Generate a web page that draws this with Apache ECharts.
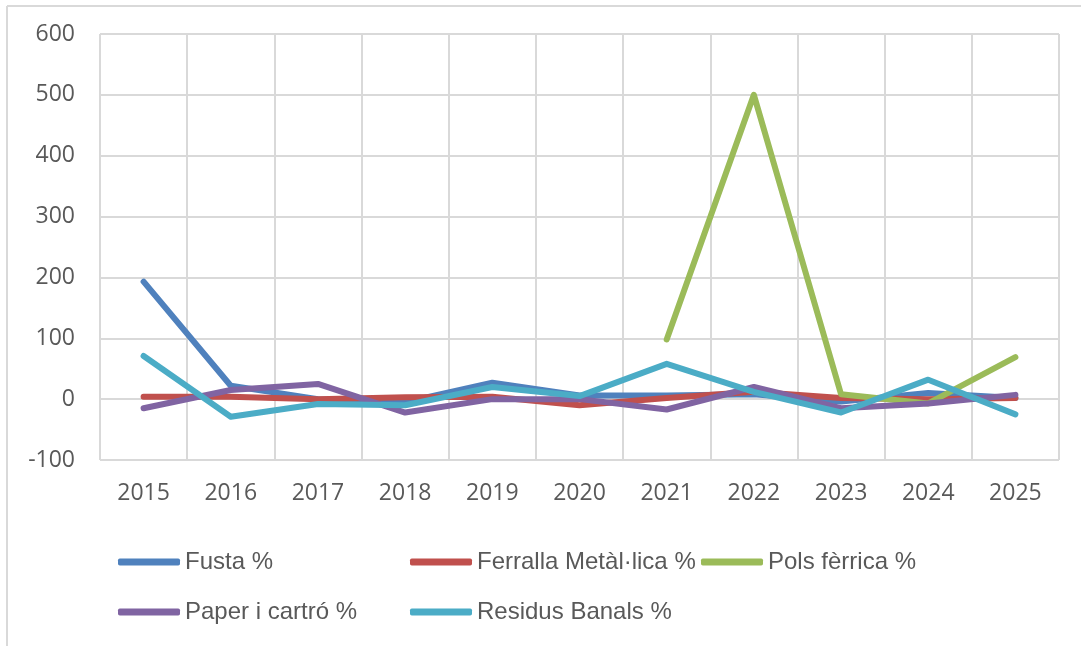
<!DOCTYPE html>
<html>
<head>
<meta charset="utf-8">
<style>
  html, body { margin: 0; padding: 0; background: #fff; }
  #main { width: 1081px; height: 646px; }
</style>
<script src="https://cdn.jsdelivr.net/npm/echarts@6/dist/echarts.min.js"></script>
</head>
<body>
<div id="main"></div>
<script>
// anys i valors (%)
var years = ['2015', '2016', '2017', '2018', '2019', '2020', '2021', '2022', '2023', '2024', '2025'];
var fusta = [193, 22, 0, -5, 27, 6, 6, 8, -4, 10, 2];
var ferralla = [4, 4, 0, 3, 4, -10, 2, 12, 2, 0, 2];
var pols = [null, null, null, null, null, null, 98, 500, 8, -7, 69];
var paper = [-15, 15, 25, -22, 0, 0, -17, 20, -15, -7, 7];
var residus = [71, -29, -8, -10, 20, 5, 58, 12, -22, 32, -25];
var yTicks = { min: -100, max: 600, interval: 100 };

var names = ['Fusta %', 'Ferralla Metàl·lica %', 'Pols fèrrica %', 'Paper i cartró %', 'Residus Banals %'];
var colors = ['#4F81BD', '#C0504D', '#9BBB59', '#8064A2', '#4BACC6'];
var values = [fusta, ferralla, pols, paper, residus];
var legendPos = [[118, 550], [410, 550], [701, 550], [118, 600], [410, 600]];

var myChart = echarts.init(document.getElementById('main'));

var grey = '#d9d9d9';
var txt = '#595959';

var option = {
    animation: false,
    color: colors,
    graphic: [
        { type: 'line', shape: { x1: 7, y1: 6, x2: 1081, y2: 6 }, style: { stroke: grey, lineWidth: 2 } },
        { type: 'line', shape: { x1: 7, y1: 6, x2: 7, y2: 646 }, style: { stroke: grey, lineWidth: 2 } }
    ],
    grid: { left: 100, right: 22, top: 34, bottom: 186 },
    legend: names.map(function (n, i) {
        return {
            data: [n],
            left: legendPos[i][0],
            top: legendPos[i][1],
            padding: 0,
            icon: 'roundRect',
            itemWidth: 62,
            itemHeight: 7,
            textStyle: { fontFamily: 'Liberation Sans', fontSize: 24, color: txt, padding: [0, 0, 0, 0] }
        };
    }),
    xAxis: {
        type: 'category',
        data: years,
        boundaryGap: true,
        axisLine: { lineStyle: { color: grey, width: 2 } },
        axisTick: { show: false },
        splitLine: { show: true, lineStyle: { color: grey, width: 2 } },
        axisLabel: { fontFamily: 'Open Sans', fontSize: 23, color: txt, margin: 22 }
    },
    yAxis: {
        type: 'value',
        min: yTicks.min,
        max: yTicks.max,
        interval: yTicks.interval,
        axisLine: { show: false },
        axisTick: { show: false },
        splitLine: { lineStyle: { color: grey, width: 2 } },
        axisLabel: { fontFamily: 'Open Sans', fontSize: 23, color: txt, margin: 25 }
    },
    series: names.map(function (n, i) {
        return {
            name: n,
            type: 'line',
            data: values[i],
            symbol: 'none',
            connectNulls: false,
            lineStyle: { width: 6, color: colors[i], cap: 'round', join: 'round' },
            itemStyle: { color: colors[i] }
        };
    })
};

myChart.setOption(option);
</script>
</body>
</html>
